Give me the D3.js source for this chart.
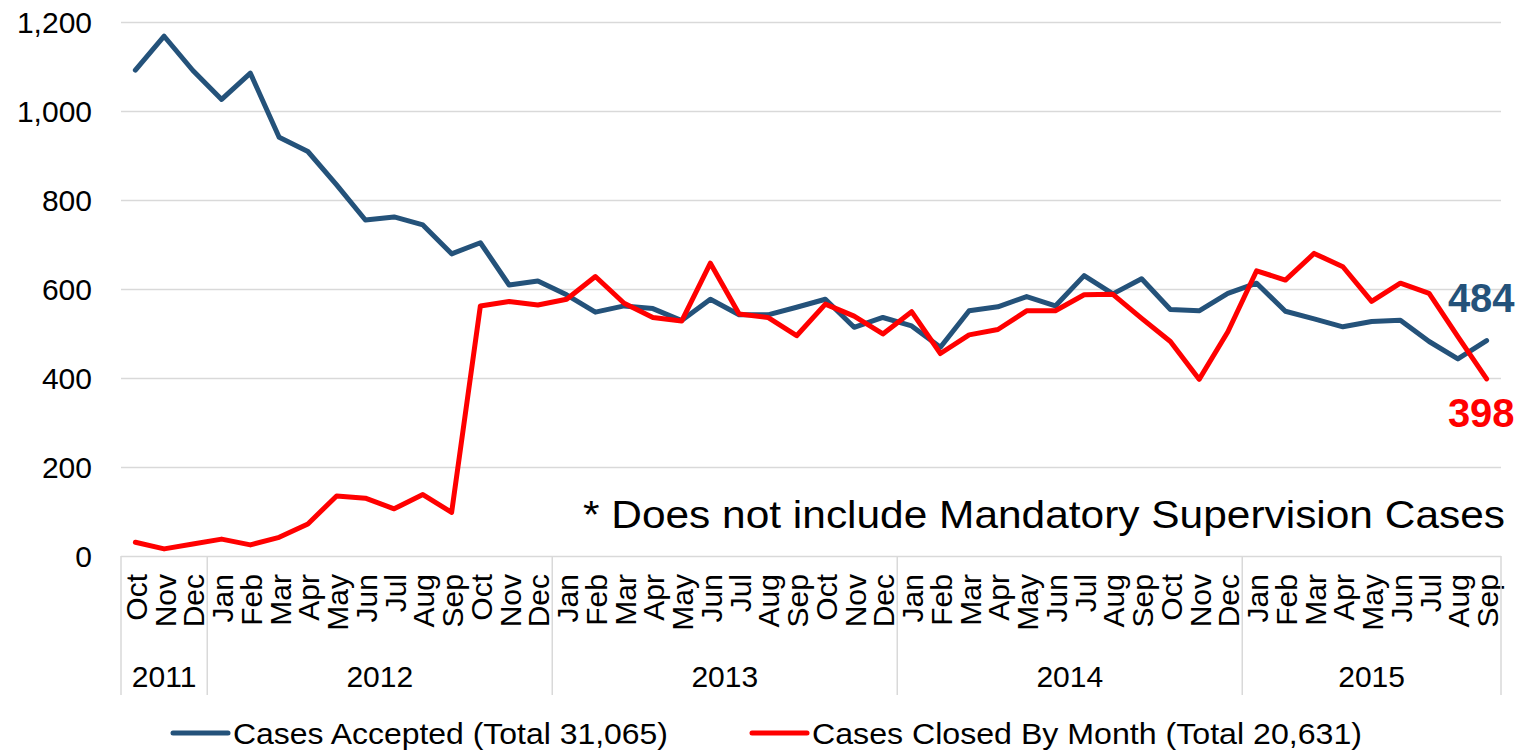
<!DOCTYPE html>
<html lang="en">
  <head>
    <meta charset="utf-8">
    <title>Cases Accepted vs Cases Closed</title>
    <script src="https://cdnjs.cloudflare.com/ajax/libs/d3/7.8.5/d3.min.js"></script>
    <style type="text/css">
      body {
        margin: 0;
        background: #fff;
      }
      svg text {
        font-family: Arial, 'Liberation Sans', sans-serif;
        fill: #000;
      }
      .grid line {
        stroke: #d9d9d9;
        stroke-width: 1.5;
      }
    </style>
  </head>
  <body>
    <svg id="chart"></svg>
    <script type="text/javascript">
// month labels, Oct 2011 .. Sep 2015
var months = ["Oct","Nov","Dec",
  "Jan","Feb","Mar","Apr","May","Jun","Jul","Aug","Sep","Oct","Nov","Dec",
  "Jan","Feb","Mar","Apr","May","Jun","Jul","Aug","Sep","Oct","Nov","Dec",
  "Jan","Feb","Mar","Apr","May","Jun","Jul","Aug","Sep","Oct","Nov","Dec",
  "Jan","Feb","Mar","Apr","May","Jun","Jul","Aug","Sep"];
var years = ["2011","2012","2013","2014","2015"];
var yearCounts = [3, 12, 12, 12, 9];

var accepted = [1092,1168,1091,
  1026,1085,941,909,834,755,762,744,679,704,609,618,
  587,548,562,556,529,577,542,542,559,577,514,536,
  517,469,551,560,583,562,630,589,623,554,551,590,
  613,550,533,515,527,530,482,443,484];
// (window.closed is reserved, hence the longer name)
var closedCases = [31,16,27,
  38,25,42,72,135,130,106,138,98,562,572,564,
  577,628,568,536,528,658,544,536,495,566,539,499,
  549,455,497,509,551,551,587,588,534,482,397,504,
  641,620,680,650,572,613,590,493,398];

var yTicks = [0, 200, 400, 600, 800, 1000, 1200];
var seriesNames = ["Cases Accepted (Total 31,065)", "Cases Closed By Month (Total 20,631)"];
var colors = ["#24527a", "#ff0000"];

var w = 1527, h = 751;
// plot area (note: "top" is taken by window.top)
var padL = 121, padR = 1501, padT = 22, padB = 556;

var svg = d3.select("#chart").attr("width", w).attr("height", h);

var x = d3.scaleBand().domain(d3.range(months.length)).range([padL, padR]);
var y = d3.scaleLinear().domain([0, 1200]).range([padB, padT]);
var cx = function(i) { return x(i) + x.bandwidth() / 2; };

// gridlines
svg.append("g")
  .attr("class", "grid")
  .attr("transform", "translate(" + padL + ",0)")
  .call(d3.axisLeft(y).tickValues(yTicks).tickSize(-(padR - padL)).tickFormat(""))
  .call(function(g) { g.select(".domain").remove(); });

// y axis labels
svg.append("g")
  .attr("transform", "translate(" + padL + ",0)")
  .call(d3.axisLeft(y).tickValues(yTicks).tickSize(0).tickPadding(29).tickFormat(d3.format(",")))
  .call(function(g) {
    g.select(".domain").remove();
    g.selectAll("text").style("font-size", "30px").attr("dy", "0.36em");
  });

// month labels (rotated)
svg.append("g")
  .attr("transform", "translate(0," + padB + ")")
  .call(d3.axisBottom(x).tickSize(0).tickFormat(function(i) { return months[i]; }))
  .call(function(g) {
    g.select(".domain").remove();
    g.selectAll("text")
      .style("font-size", "30px")
      .attr("transform", "rotate(-90)")
      .attr("text-anchor", "end")
      .attr("x", -18)
      .attr("y", 0)
      .attr("dy", "0.38em");
  });

// year groups
var starts = [0];
yearCounts.forEach(function(c, i) { starts.push(starts[i] + c); });
var edge = function(i) { return i < months.length ? x(i) : padR; };

svg.append("g").attr("class", "grid")
  .selectAll("line").data(starts).enter().append("line")
  .attr("x1", edge).attr("x2", edge)
  .attr("y1", padB).attr("y2", 695);

svg.append("g").selectAll("text").data(years).enter().append("text")
  .attr("x", function(d, i) { return (edge(starts[i]) + edge(starts[i + 1])) / 2; })
  .attr("y", 687)
  .attr("text-anchor", "middle")
  .style("font-size", "30px")
  .text(function(d) { return d; });

// lines
var line = d3.line()
  .x(function(d, i) { return cx(i); })
  .y(function(d) { return y(d); });

[accepted, closedCases].forEach(function(s, k) {
  svg.append("path")
    .datum(s)
    .attr("fill", "none")
    .attr("stroke", colors[k])
    .attr("stroke-width", 5)
    .attr("stroke-linejoin", "round")
    .attr("stroke-linecap", "round")
    .attr("d", line);
});

// end values
var last = months.length - 1;
svg.append("text")
  .attr("x", cx(last) + 28)
  .attr("y", y(accepted[last]) - 29)
  .attr("text-anchor", "end")
  .style("font-size", "40px")
  .style("font-weight", "bold")
  .style("fill", colors[0])
  .text(d3.format(",")(accepted[last]));

svg.append("text")
  .attr("x", cx(last) + 28)
  .attr("y", y(closedCases[last]) + 48)
  .attr("text-anchor", "end")
  .style("font-size", "40px")
  .style("font-weight", "bold")
  .style("fill", colors[1])
  .text(d3.format(",")(closedCases[last]));

// note
svg.append("text")
  .attr("x", 583)
  .attr("y", 528)
  .attr("textLength", 922)
  .attr("lengthAdjust", "spacingAndGlyphs")
  .style("font-size", "39px")
  .text("* Does not include Mandatory Supervision Cases");

// legend
var legendX = [173, 752];
var legendW = [435, 550];
seriesNames.forEach(function(name, k) {
  svg.append("line")
    .attr("x1", legendX[k]).attr("x2", legendX[k] + 55)
    .attr("y1", 733).attr("y2", 733)
    .attr("stroke", colors[k])
    .attr("stroke-width", 5)
    .attr("stroke-linecap", "round");
  svg.append("text")
    .attr("x", legendX[k] + 60)
    .attr("y", 744)
    .attr("textLength", legendW[k])
    .attr("lengthAdjust", "spacingAndGlyphs")
    .style("font-size", "30px")
    .text(name);
});
    </script>
  </body>
</html>
